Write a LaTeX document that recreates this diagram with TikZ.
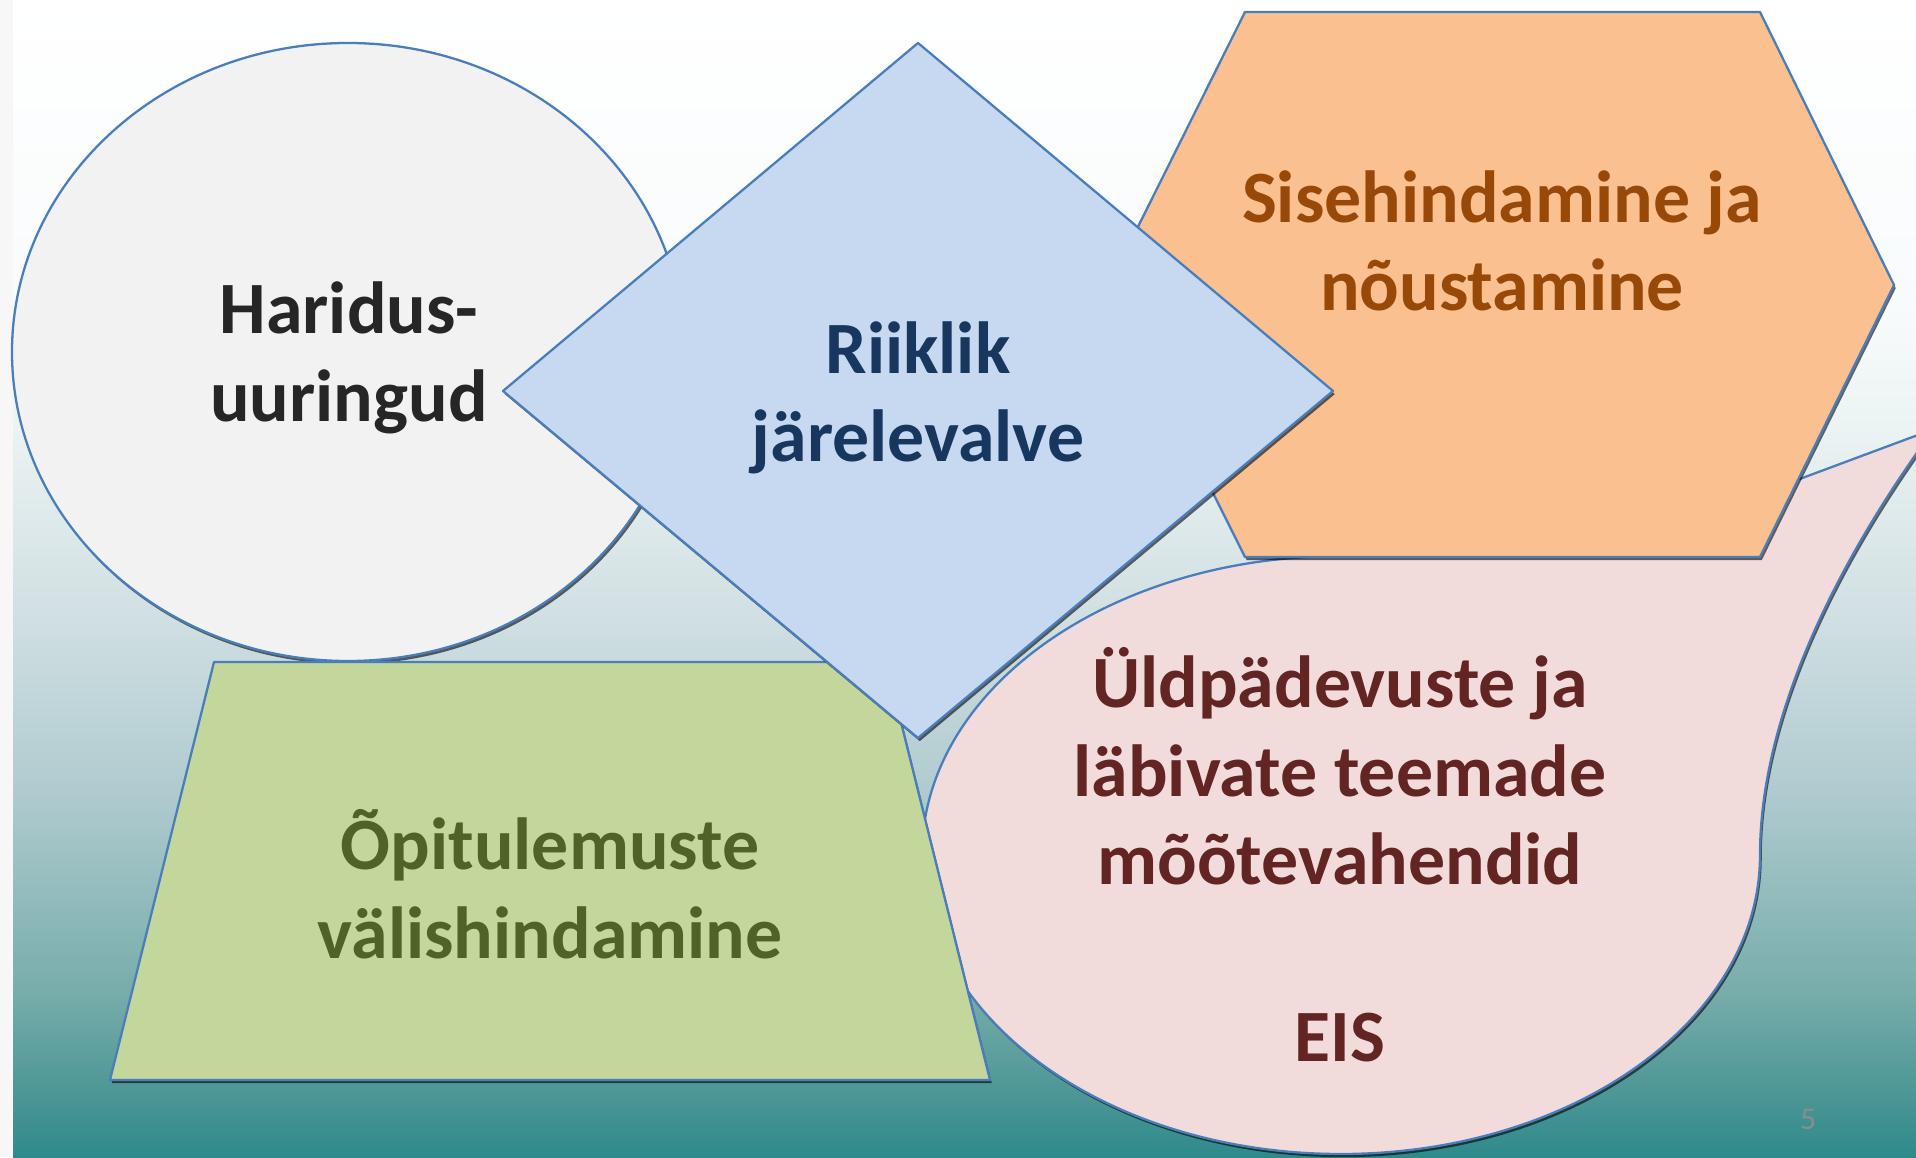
\documentclass[tikz,border=0pt]{standalone}
\usepackage{fontspec}
\setmainfont{Carlito}
\usetikzlibrary{shadows}

\definecolor{edge}{HTML}{4A7EBB}
\definecolor{ellfill}{HTML}{F2F2F2}
\definecolor{diafill}{HTML}{C6D9F1}
\definecolor{hexfill}{HTML}{FAC090}
\definecolor{trapfill}{HTML}{C3D69B}
\definecolor{bubfill}{HTML}{F2DCDB}
\definecolor{elltext}{HTML}{262626}
\definecolor{diatext}{HTML}{17375E}
\definecolor{hextext}{HTML}{984807}
\definecolor{traptext}{HTML}{4F6228}
\definecolor{bubtext}{HTML}{632523}
\definecolor{bgA}{HTML}{2E8A8A}
\definecolor{bgB}{HTML}{4A9595}
\definecolor{bgC}{HTML}{76ACAA}
\definecolor{bgD}{HTML}{AECACE}
\definecolor{bgE}{HTML}{D3E1E4}
\definecolor{bgF}{HTML}{EEF5F5}
\definecolor{bgG}{HTML}{F8FBFC}

\pgfdeclareverticalshading{backdrop}{100bp}{color(0bp)=(bgA); color(25bp)=(bgA);
  color(27.5bp)=(bgB); color(32bp)=(bgC); color(40.5bp)=(bgD); color(49bp)=(bgE);
  color(57.5bp)=(bgF); color(62bp)=(bgG); color(75bp)=(white); color(100bp)=(white)}

\begin{document}
\begin{tikzpicture}[inner sep=0pt,
  part/.style={draw=edge,line width=0.65pt,line join=round,
    drop shadow={shadow xshift=0.5pt,shadow yshift=-0.9pt,fill=black,opacity=0.6}},
  word/.style={font=\bfseries\fontsize{21}{25.2}\selectfont,align=center}]

\clip (0,0) rectangle (19.16,11.57);
\fill[black!3] (0,0) rectangle (19.16,11.57);
\shade[shading=backdrop] (0.13,0) rectangle (19.16,11.57);

\draw[part,fill=bubfill] (17.60,3.02) arc[start angle=0,end angle=-270,x radius=4.19,y radius=2.99]
  -- (14.8,6.3) -- (17.97,6.77) -- (19.34,7.28)
  .. controls (18.45,6.07) and (17.60,4.48) .. (17.60,3.02) -- cycle;

\draw[part,fill=ellfill] (3.48,8.05) ellipse[x radius=3.36,y radius=3.09];

\draw[part,fill=trapfill] (1.10,0.77) -- (9.90,0.77) -- (8.86,4.95) -- (2.14,4.95) -- cycle;

\draw[part,fill=hexfill] (12.45,11.45) -- (17.60,11.45) -- (18.94,8.72) -- (17.60,6.00)
  -- (12.45,6.00) -- (11.09,8.72) -- cycle;

\draw[part,fill=diafill] (9.18,11.14) -- (13.33,7.66) -- (9.18,4.19) -- (5.03,7.66) -- cycle;

\node[word,text=elltext] (research) at (3.49,7.99) {Haridus-\\uuringud};
\node[word,text=diatext] (oversight) at (9.18,7.59) {Riiklik\\järelevalve};
\node[word,text=hextext] (selfeval) at (15.02,9.16) {Sisehindamine ja\\nõustamine};
\node[word,text=traptext] (outcomes) at (5.50,2.73) {Õpitulemuste\\välishindamine};
\node[word,text=bubtext] (tools) at (13.40,3.02) {Üldpädevuste ja\\läbivate teemade\\mõõtevahendid\\[25.2pt]EIS};

\node[font=\fontsize{9}{11}\selectfont,text=black!45] (pagenum) at (18.08,0.38) {5};

\end{tikzpicture}
\end{document}
